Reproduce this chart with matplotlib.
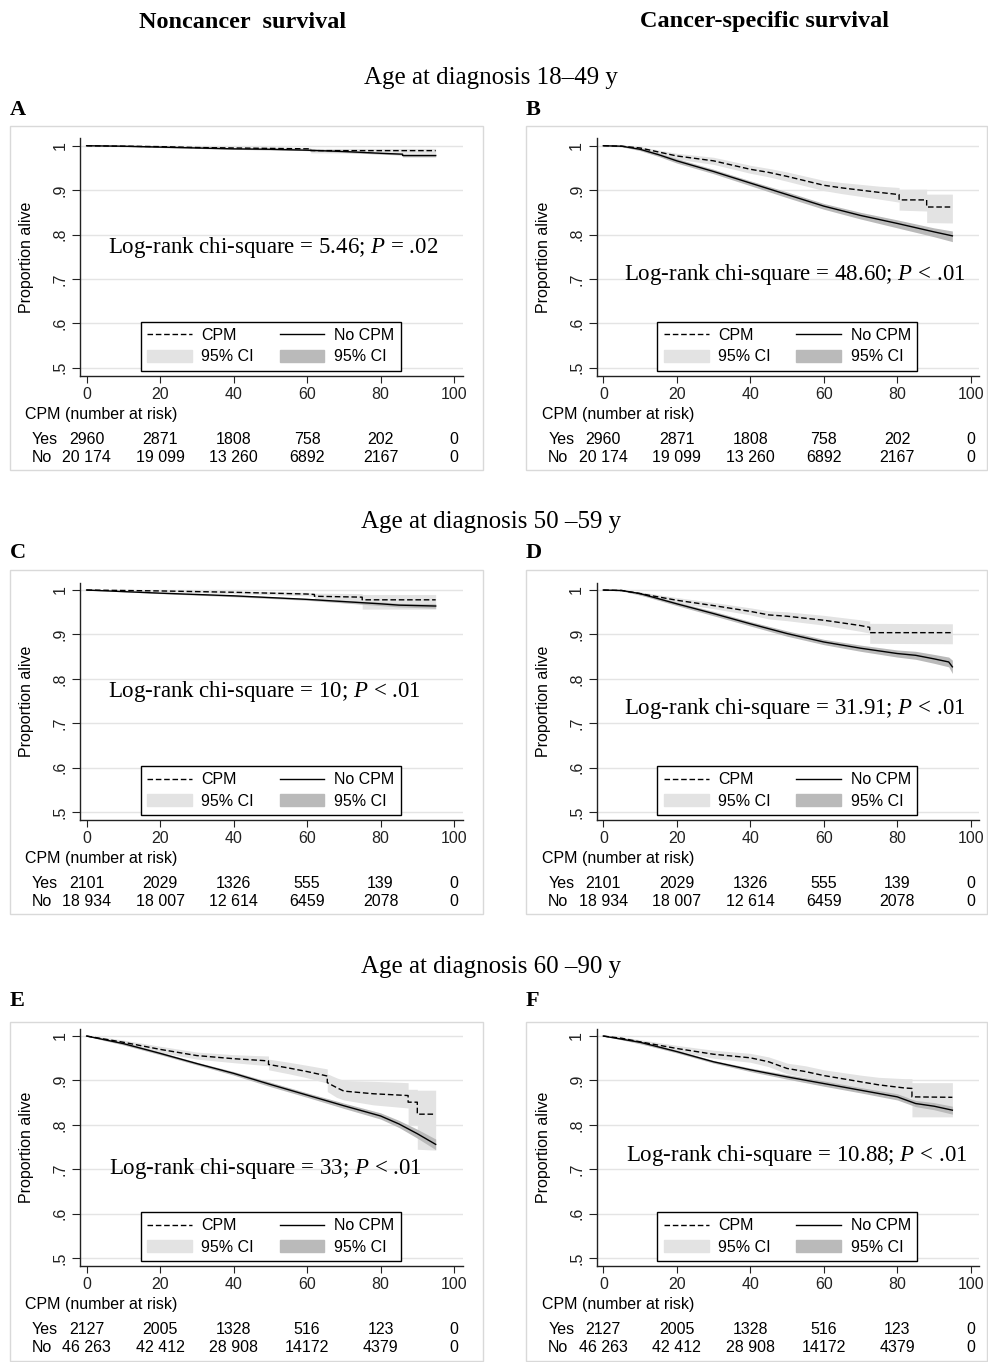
import matplotlib.pyplot as plt
import matplotlib.transforms as mtransforms
from matplotlib.lines import Line2D
from matplotlib.patches import Patch, Rectangle

plt.rcParams['font.family'] = ['Liberation Sans', 'DejaVu Sans']
plt.rcParams['mathtext.fontset'] = 'custom'
plt.rcParams['mathtext.rm'] = 'Liberation Serif'
plt.rcParams['mathtext.it'] = 'Liberation Serif:italic'

# ---- data ----
risk_times = [0, 20, 40, 60, 80, 100]
yes_18_49 = ['2960', '2871', '1808', '758', '202', '0']
no_18_49 = ['20 174', '19 099', '13 260', '6892', '2167', '0']
yes_50_59 = ['2101', '2029', '1326', '555', '139', '0']
no_50_59 = ['18 934', '18 007', '12 614', '6459', '2078', '0']
yes_60_90 = ['2127', '2005', '1328', '516', '123', '0']
no_60_90 = ['46 263', '42 412', '28 908', '14172', '4379', '0']

row_titles = ['Age at diagnosis 18\u201349 y', 'Age at diagnosis 50 \u201359 y', 'Age at diagnosis 60 \u201390 y']
col_titles = ['Noncancer  survival', 'Cancer-specific survival']
letters = ['A', 'B', 'C', 'D', 'E', 'F']
logrank = ['Log-rank chi-square = 5.46; $\\mathit{P}$ = .02',
           'Log-rank chi-square = 48.60; $\\mathit{P}$ < .01',
           'Log-rank chi-square = 10; $\\mathit{P}$ < .01',
           'Log-rank chi-square = 31.91; $\\mathit{P}$ < .01',
           'Log-rank chi-square = 33; $\\mathit{P}$ < .01',
           'Log-rank chi-square = 10.88; $\\mathit{P}$ < .01']

# A: noncancer, 18-49
a_cpm_t = [0, 10, 20, 30, 40, 50, 61, 61, 95]
a_cpm_s = [1.0, 0.999, 0.998, 0.996, 0.995, 0.994, 0.993, 0.989, 0.989]
a_cpm_lo = [1.0, 0.998, 0.996, 0.994, 0.992, 0.990, 0.989, 0.984, 0.983]
a_cpm_hi = [1.0, 1.0, 0.999, 0.998, 0.997, 0.997, 0.996, 0.994, 0.994]
a_no_t = [0, 10, 20, 30, 40, 50, 60, 70, 80, 86, 86, 95]
a_no_s = [1.0, 0.999, 0.997, 0.995, 0.993, 0.992, 0.990, 0.987, 0.983, 0.981, 0.978, 0.978]
a_no_lo = [1.0, 0.998, 0.996, 0.994, 0.992, 0.991, 0.989, 0.985, 0.981, 0.979, 0.975, 0.975]
a_no_hi = [1.0, 1.0, 0.998, 0.996, 0.994, 0.993, 0.991, 0.989, 0.985, 0.983, 0.981, 0.981]

# B: cancer-specific, 18-49
b_cpm_t = [0, 5, 10, 20, 30, 40, 45, 50, 60, 65, 70, 75, 80.5, 80.5, 88, 88, 95]
b_cpm_s = [1.0, 0.999, 0.995, 0.977, 0.966, 0.947, 0.940, 0.931, 0.911, 0.905, 0.900, 0.895, 0.890, 0.878, 0.878, 0.862, 0.862]
b_cpm_lo = [1.0, 0.997, 0.991, 0.970, 0.958, 0.938, 0.930, 0.920, 0.899, 0.892, 0.886, 0.880, 0.873, 0.855, 0.853, 0.827, 0.826]
b_cpm_hi = [1.0, 1.0, 0.998, 0.983, 0.974, 0.956, 0.949, 0.941, 0.922, 0.917, 0.913, 0.909, 0.906, 0.902, 0.902, 0.891, 0.891]
b_no_t = [0, 5, 10, 15, 20, 30, 40, 50, 60, 70, 80, 90, 95]
b_no_s = [1.0, 0.999, 0.992, 0.980, 0.966, 0.942, 0.916, 0.890, 0.864, 0.843, 0.825, 0.806, 0.797]
b_no_lo = [1.0, 0.998, 0.989, 0.976, 0.961, 0.937, 0.910, 0.883, 0.857, 0.835, 0.815, 0.795, 0.784]
b_no_hi = [1.0, 1.0, 0.995, 0.984, 0.971, 0.947, 0.921, 0.896, 0.870, 0.850, 0.833, 0.815, 0.808]

# C: noncancer, 50-59
c_cpm_t = [0, 20, 40, 60, 62, 62, 75, 75, 95]
c_cpm_s = [1.0, 0.998, 0.995, 0.991, 0.990, 0.986, 0.984, 0.978, 0.978]
c_cpm_lo = [1.0, 0.996, 0.992, 0.987, 0.986, 0.978, 0.975, 0.957, 0.957]
c_cpm_hi = [1.0, 1.0, 0.998, 0.995, 0.994, 0.993, 0.992, 0.990, 0.990]
c_no_t = [0, 20, 40, 60, 70, 80, 85, 95]
c_no_s = [1.0, 0.993, 0.987, 0.979, 0.974, 0.969, 0.966, 0.964]
c_no_lo = [1.0, 0.992, 0.985, 0.977, 0.971, 0.965, 0.962, 0.959]
c_no_hi = [1.0, 0.994, 0.989, 0.981, 0.977, 0.973, 0.970, 0.969]

# D: cancer-specific, 50-59
d_cpm_t = [0, 5, 10, 20, 30, 40, 45, 50, 60, 70, 72.5, 72.5, 95]
d_cpm_s = [1.0, 0.999, 0.992, 0.977, 0.965, 0.952, 0.944, 0.941, 0.932, 0.920, 0.916, 0.904, 0.904]
d_cpm_lo = [1.0, 0.998, 0.988, 0.971, 0.958, 0.944, 0.935, 0.931, 0.921, 0.907, 0.903, 0.880, 0.879]
d_cpm_hi = [1.0, 1.0, 0.996, 0.983, 0.972, 0.960, 0.953, 0.951, 0.943, 0.933, 0.930, 0.925, 0.924]
d_no_t = [0, 5, 10, 20, 30, 40, 50, 60, 70, 80, 85, 90, 94, 95]
d_no_s = [1.0, 0.999, 0.992, 0.969, 0.947, 0.924, 0.902, 0.883, 0.869, 0.857, 0.853, 0.845, 0.838, 0.827]
d_no_lo = [1.0, 0.998, 0.989, 0.965, 0.942, 0.919, 0.896, 0.877, 0.862, 0.849, 0.844, 0.835, 0.827, 0.812]
d_no_hi = [1.0, 1.0, 0.995, 0.973, 0.952, 0.929, 0.908, 0.889, 0.876, 0.865, 0.862, 0.855, 0.849, 0.842]

# E: noncancer, 60-90
e_cpm_t = [0, 5, 10, 20, 30, 40, 49.5, 49.5, 55, 60, 65.5, 65.5, 68, 70, 78, 87.5, 87.5, 90, 90, 95]
e_cpm_s = [1.0, 0.993, 0.986, 0.970, 0.956, 0.949, 0.944, 0.936, 0.928, 0.920, 0.910, 0.895, 0.884, 0.876, 0.870, 0.866, 0.851, 0.851, 0.824, 0.824]
e_cpm_lo = [1.0, 0.989, 0.981, 0.963, 0.948, 0.940, 0.933, 0.924, 0.915, 0.906, 0.894, 0.875, 0.862, 0.856, 0.845, 0.838, 0.800, 0.800, 0.745, 0.743]
e_cpm_hi = [1.0, 0.997, 0.991, 0.977, 0.964, 0.958, 0.955, 0.948, 0.941, 0.934, 0.926, 0.915, 0.906, 0.900, 0.898, 0.895, 0.880, 0.880, 0.878, 0.878]
e_no_t = [0, 10, 20, 30, 40, 50, 60, 70, 80, 85, 90, 95]
e_no_s = [1.0, 0.983, 0.961, 0.938, 0.916, 0.891, 0.867, 0.843, 0.820, 0.802, 0.780, 0.756]
e_no_lo = [1.0, 0.980, 0.958, 0.935, 0.912, 0.886, 0.862, 0.837, 0.813, 0.794, 0.770, 0.744]
e_no_hi = [1.0, 0.986, 0.964, 0.941, 0.920, 0.896, 0.872, 0.849, 0.827, 0.810, 0.790, 0.768]

# F: cancer-specific, 60-90
f_cpm_t = [0, 5, 10, 20, 30, 40, 45, 50, 55, 60, 70, 75, 82, 84, 84, 95]
f_cpm_s = [1.0, 0.995, 0.987, 0.972, 0.959, 0.951, 0.942, 0.927, 0.920, 0.911, 0.897, 0.890, 0.883, 0.882, 0.863, 0.862]
f_cpm_lo = [1.0, 0.992, 0.982, 0.965, 0.950, 0.941, 0.931, 0.915, 0.907, 0.898, 0.882, 0.873, 0.862, 0.860, 0.818, 0.818]
f_cpm_hi = [1.0, 0.998, 0.992, 0.979, 0.968, 0.961, 0.953, 0.939, 0.933, 0.924, 0.912, 0.907, 0.904, 0.904, 0.895, 0.895]
f_no_t = [0, 10, 20, 30, 40, 50, 60, 70, 80, 85, 90, 95]
f_no_s = [1.0, 0.986, 0.965, 0.942, 0.924, 0.908, 0.893, 0.878, 0.863, 0.848, 0.842, 0.833]
f_no_lo = [1.0, 0.983, 0.962, 0.939, 0.920, 0.903, 0.887, 0.872, 0.856, 0.841, 0.834, 0.824]
f_no_hi = [1.0, 0.989, 0.968, 0.945, 0.928, 0.913, 0.899, 0.884, 0.870, 0.855, 0.850, 0.842]

panels = [
    (a_cpm_t, a_cpm_s, a_cpm_lo, a_cpm_hi, a_no_t, a_no_s, a_no_lo, a_no_hi, yes_18_49, no_18_49),
    (b_cpm_t, b_cpm_s, b_cpm_lo, b_cpm_hi, b_no_t, b_no_s, b_no_lo, b_no_hi, yes_18_49, no_18_49),
    (c_cpm_t, c_cpm_s, c_cpm_lo, c_cpm_hi, c_no_t, c_no_s, c_no_lo, c_no_hi, yes_50_59, no_50_59),
    (d_cpm_t, d_cpm_s, d_cpm_lo, d_cpm_hi, d_no_t, d_no_s, d_no_lo, d_no_hi, yes_50_59, no_50_59),
    (e_cpm_t, e_cpm_s, e_cpm_lo, e_cpm_hi, e_no_t, e_no_s, e_no_lo, e_no_hi, yes_60_90, no_60_90),
    (f_cpm_t, f_cpm_s, f_cpm_lo, f_cpm_hi, f_no_t, f_no_s, f_no_lo, f_no_hi, yes_60_90, no_60_90),
]
text_pos = [(50.8, 0.770), (52, 0.709), (48.4, 0.771), (52, 0.733), (48.6, 0.702), (52.7, 0.732)]

# ---- layout (pixels) ----
W, H = 988, 1362
fig = plt.figure(figsize=(W / 100, H / 100), dpi=100)
fig.patch.set_facecolor('white')

def fx(px):
    return px / W

def fy(py):
    return 1 - py / H

col_left = [80, 596.7]
row_bottom = [375.7, 820, 1266]
ax_w, ax_h = 382.5, 237.5
box_top = [126, 570, 1022]
box_bottom = [470, 914, 1361]
box_x = [(10, 483), (526, 987)]
letter_y = [110, 553, 1001]
title_y = [78, 522, 967]

light_ci = '#e3e3e3'
dark_ci = '#bababa'
serif = ['Liberation Serif', 'DejaVu Serif']

fig.text(fx(243), fy(22), col_titles[0], ha='center', va='center', fontsize=17.5, fontweight='bold', family=serif)
fig.text(fx(764), fy(22), col_titles[1], ha='center', va='center', fontsize=17.5, fontweight='bold', family=serif)

for i, p in enumerate(panels):
    r, c = i // 2, i % 2
    cpm_t, cpm_s, cpm_lo, cpm_hi, no_t, no_s, no_lo, no_hi, yes_n, no_n = p

    if c == 0:
        fig.text(fx(491), fy(title_y[r]), row_titles[r], ha='center', va='center', fontsize=18, family=serif)

    x0, x1 = box_x[c]
    fig.add_artist(Rectangle((fx(x0), fy(box_bottom[r])), (x1 - x0) / W, (box_bottom[r] - box_top[r]) / H,
                             transform=fig.transFigure, fill=False, ec='#d9d9d9', lw=1.0))
    fig.text(fx(x0), fy(letter_y[r]), letters[i], ha='left', va='center', fontsize=16,
             fontweight='bold', family=serif)

    ax = fig.add_axes([fx(col_left[c]), fy(row_bottom[r]), ax_w / W, ax_h / H])
    ax.set_xlim(-1.8, 102.3)
    ax.set_ylim(0.482, 1.017)

    ax.fill_between(cpm_t, cpm_lo, cpm_hi, color=light_ci, lw=0)
    ax.fill_between(no_t, no_lo, no_hi, color=dark_ci, lw=0)
    ax.plot(cpm_t, cpm_s, color='black', lw=1.0, ls=(0, (4, 2)))
    ax.plot(no_t, no_s, color='black', lw=1.0)

    ax.set_yticks([0.5, 0.6, 0.7, 0.8, 0.9, 1.0])
    ax.set_yticklabels(['.5', '.6', '.7', '.8', '.9', '1'])
    ax.set_xticks(risk_times)
    ax.grid(axis='y', color='#e4e4e4', lw=1.0)
    ax.set_axisbelow(True)
    for s in ['top', 'right']:
        ax.spines[s].set_visible(False)
    for s in ['left', 'bottom']:
        ax.spines[s].set_color('#222222')
        ax.spines[s].set_linewidth(1.0)
    ax.tick_params(axis='y', labelrotation=90, length=6, pad=3, labelsize=11.5, colors='#222222')
    ax.tick_params(axis='x', length=5, pad=3, labelsize=11.5, colors='#222222')
    for lab in ax.get_yticklabels():
        lab.set_va('center')
    ax.set_ylabel('Proportion alive', fontsize=11.5)
    ax.yaxis.set_label_coords(-46 / ax_w, 0.5)

    ax.text(text_pos[i][0], text_pos[i][1], logrank[i], ha='center', va='center',
            fontsize=16.5, family=serif)

    handles = [Line2D([], [], color='black', lw=1.0, ls=(0, (4, 2))), Patch(color=light_ci),
               Line2D([], [], color='black', lw=1.0), Patch(color=dark_ci)]
    leg = ax.legend(handles, ['CPM', '95% CI', 'No CPM', '95% CI'], ncol=2, loc='lower center',
                    bbox_to_anchor=(50.1, 0.493), bbox_transform=ax.transData,
                    fancybox=False, edgecolor='black', framealpha=1, fontsize=11.5,
                    handlelength=2.8, handleheight=0.8, columnspacing=1.6, borderpad=0.4,
                    labelspacing=0.4, handletextpad=0.6, borderaxespad=0)
    leg.get_frame().set_linewidth(1.0)

    trans = mtransforms.blended_transform_factory(ax.transData, ax.transAxes)
    ax.text(-16.8, -39 / ax_h, 'CPM (number at risk)', transform=trans, ha='left', va='center', fontsize=11.5)
    ax.text(-15, -64 / ax_h, 'Yes', transform=trans, ha='left', va='center', fontsize=11.5)
    ax.text(-15, -82 / ax_h, 'No', transform=trans, ha='left', va='center', fontsize=11.5)
    for x, v1, v2 in zip(risk_times, yes_n, no_n):
        ax.text(x, -64 / ax_h, v1, transform=trans, ha='center', va='center', fontsize=11.5)
        ax.text(x, -82 / ax_h, v2, transform=trans, ha='center', va='center', fontsize=11.5)

fig.savefig('out.png', dpi=100)
